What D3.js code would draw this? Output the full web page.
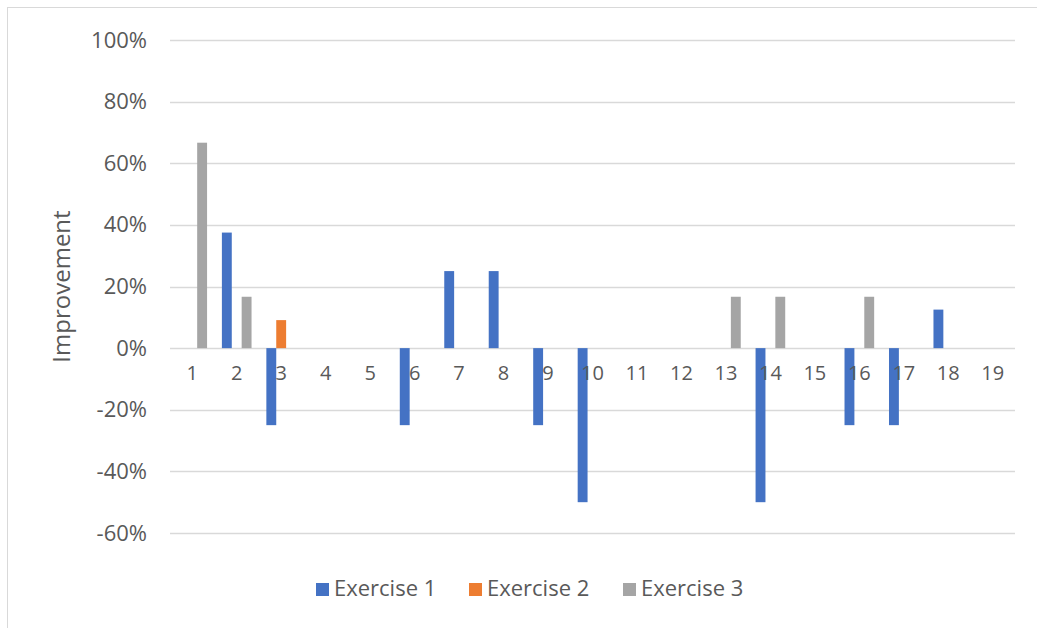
<!DOCTYPE html>
<html>
<head>
<meta charset="utf-8">
<script src="https://cdn.jsdelivr.net/npm/d3@7"></script>
<style>
  html, body { margin: 0; padding: 0; background: #fff; }
  svg { display: block; }
  text { font-family: "Open Sans", "Liberation Sans", sans-serif; fill: #595959; }
</style>
</head>
<body>
<svg id="chart" width="1037" height="628"></svg>
<script>
// Improvement per participant for three exercises
const categories = ["1","2","3","4","5","6","7","8","9","10","11","12","13","14","15","16","17","18","19"];
const seriesNames = ["Exercise 1", "Exercise 2", "Exercise 3"];
const exercise1 = [0, 0.375, -0.25, 0, 0, -0.25, 0.25, 0.25, -0.25, -0.5, 0, 0, 0, -0.5, 0, -0.25, -0.25, 0.125, 0];
const exercise2 = [0, 0, 0.0909, 0, 0, 0, 0, 0, 0, 0, 0, 0, 0, 0, 0, 0, 0, 0, 0];
const exercise3 = [0.6667, 0.1667, 0, 0, 0, 0, 0, 0, 0, 0, 0, 0, 0.1667, 0.1667, 0, 0.1667, 0, 0, 0];
const yTicks = [-0.6, -0.4, -0.2, 0, 0.2, 0.4, 0.6, 0.8, 1.0];
const colors = ["#4472C4", "#ED7D31", "#A5A5A5"];

const seriesValues = [exercise1, exercise2, exercise3];

const svg = d3.select("#chart");

// chart area frame
svg.append("rect")
  .attr("x", 7.5).attr("y", 7.5)
  .attr("width", 1040).attr("height", 640)
  .attr("fill", "#fff").attr("stroke", "#d9d9d9").attr("stroke-width", 1);

const plot = { left: 170, right: 1015, top: 40, bottom: 533 };

const x = d3.scaleBand().domain(categories).range([plot.left, plot.right]).padding(0);
// bars per category: 3 series with a 150% gap
const barW = x.bandwidth() / (seriesNames.length + 1.5);
const xs = d3.scaleBand().domain(seriesNames)
  .range([(x.bandwidth() - barW * 3) / 2, (x.bandwidth() + barW * 3) / 2]).padding(0);

const y = d3.scaleLinear().domain([-0.6, 1.0]).range([plot.bottom, plot.top]);

// gridlines
svg.append("g")
  .selectAll("line")
  .data(yTicks)
  .join("line")
  .attr("x1", plot.left).attr("x2", plot.right)
  .attr("y1", d => Math.round(y(d)) + 0.5).attr("y2", d => Math.round(y(d)) + 0.5)
  .attr("stroke", "#d9d9d9").attr("stroke-width", 1.3);

// y axis labels (plain hyphen for negatives)
const pct = d => Math.round(d * 100) + "%";
const yAxis = d3.axisLeft(y).tickValues(yTicks).tickFormat(pct).tickSize(0).tickPadding(0);
const yg = svg.append("g").attr("transform", `translate(147,0)`).call(yAxis);
yg.select(".domain").remove();
yg.selectAll("text").attr("font-size", 22).attr("fill", "#595959")
  .attr("font-family", "'Open Sans', sans-serif");

// bars
const groups = svg.append("g")
  .selectAll("g")
  .data(seriesNames.map((name, i) => ({ name, color: colors[i], values: seriesValues[i] })))
  .join("g")
  .attr("fill", d => d.color);

groups.selectAll("rect")
  .data(s => s.values.map((v, j) => ({ name: s.name, cat: categories[j], v })))
  .join("rect")
  .attr("x", d => x(d.cat) + xs(d.name))
  .attr("width", barW)
  .attr("y", d => Math.min(y(d.v), y(0)))
  .attr("height", d => Math.abs(y(d.v) - y(0)));

// category labels sit beside the zero line
const xAxis = d3.axisBottom(x).tickSize(0).tickPadding(0);
const xg = svg.append("g").attr("transform", `translate(0,${y(0) + 18})`).call(xAxis);
xg.select(".domain").remove();
xg.selectAll("text").attr("font-size", 20).attr("fill", "#595959")
  .attr("font-family", "'Open Sans', sans-serif");

// y axis title
svg.append("text")
  .attr("transform", `translate(70,${(plot.top + plot.bottom) / 2}) rotate(-90)`)
  .attr("text-anchor", "middle")
  .attr("font-size", 24)
  .text("Improvement");

// legend
const legendX = [316, 469, 623];
const legend = svg.append("g")
  .selectAll("g")
  .data(seriesNames)
  .join("g")
  .attr("transform", (d, i) => `translate(${legendX[i]},583)`);
legend.append("rect").attr("width", 13).attr("height", 13).attr("fill", (d, i) => colors[i]);
legend.append("text").attr("x", 18).attr("y", 13).attr("font-size", 22).text(d => d);
</script>
</body>
</html>
